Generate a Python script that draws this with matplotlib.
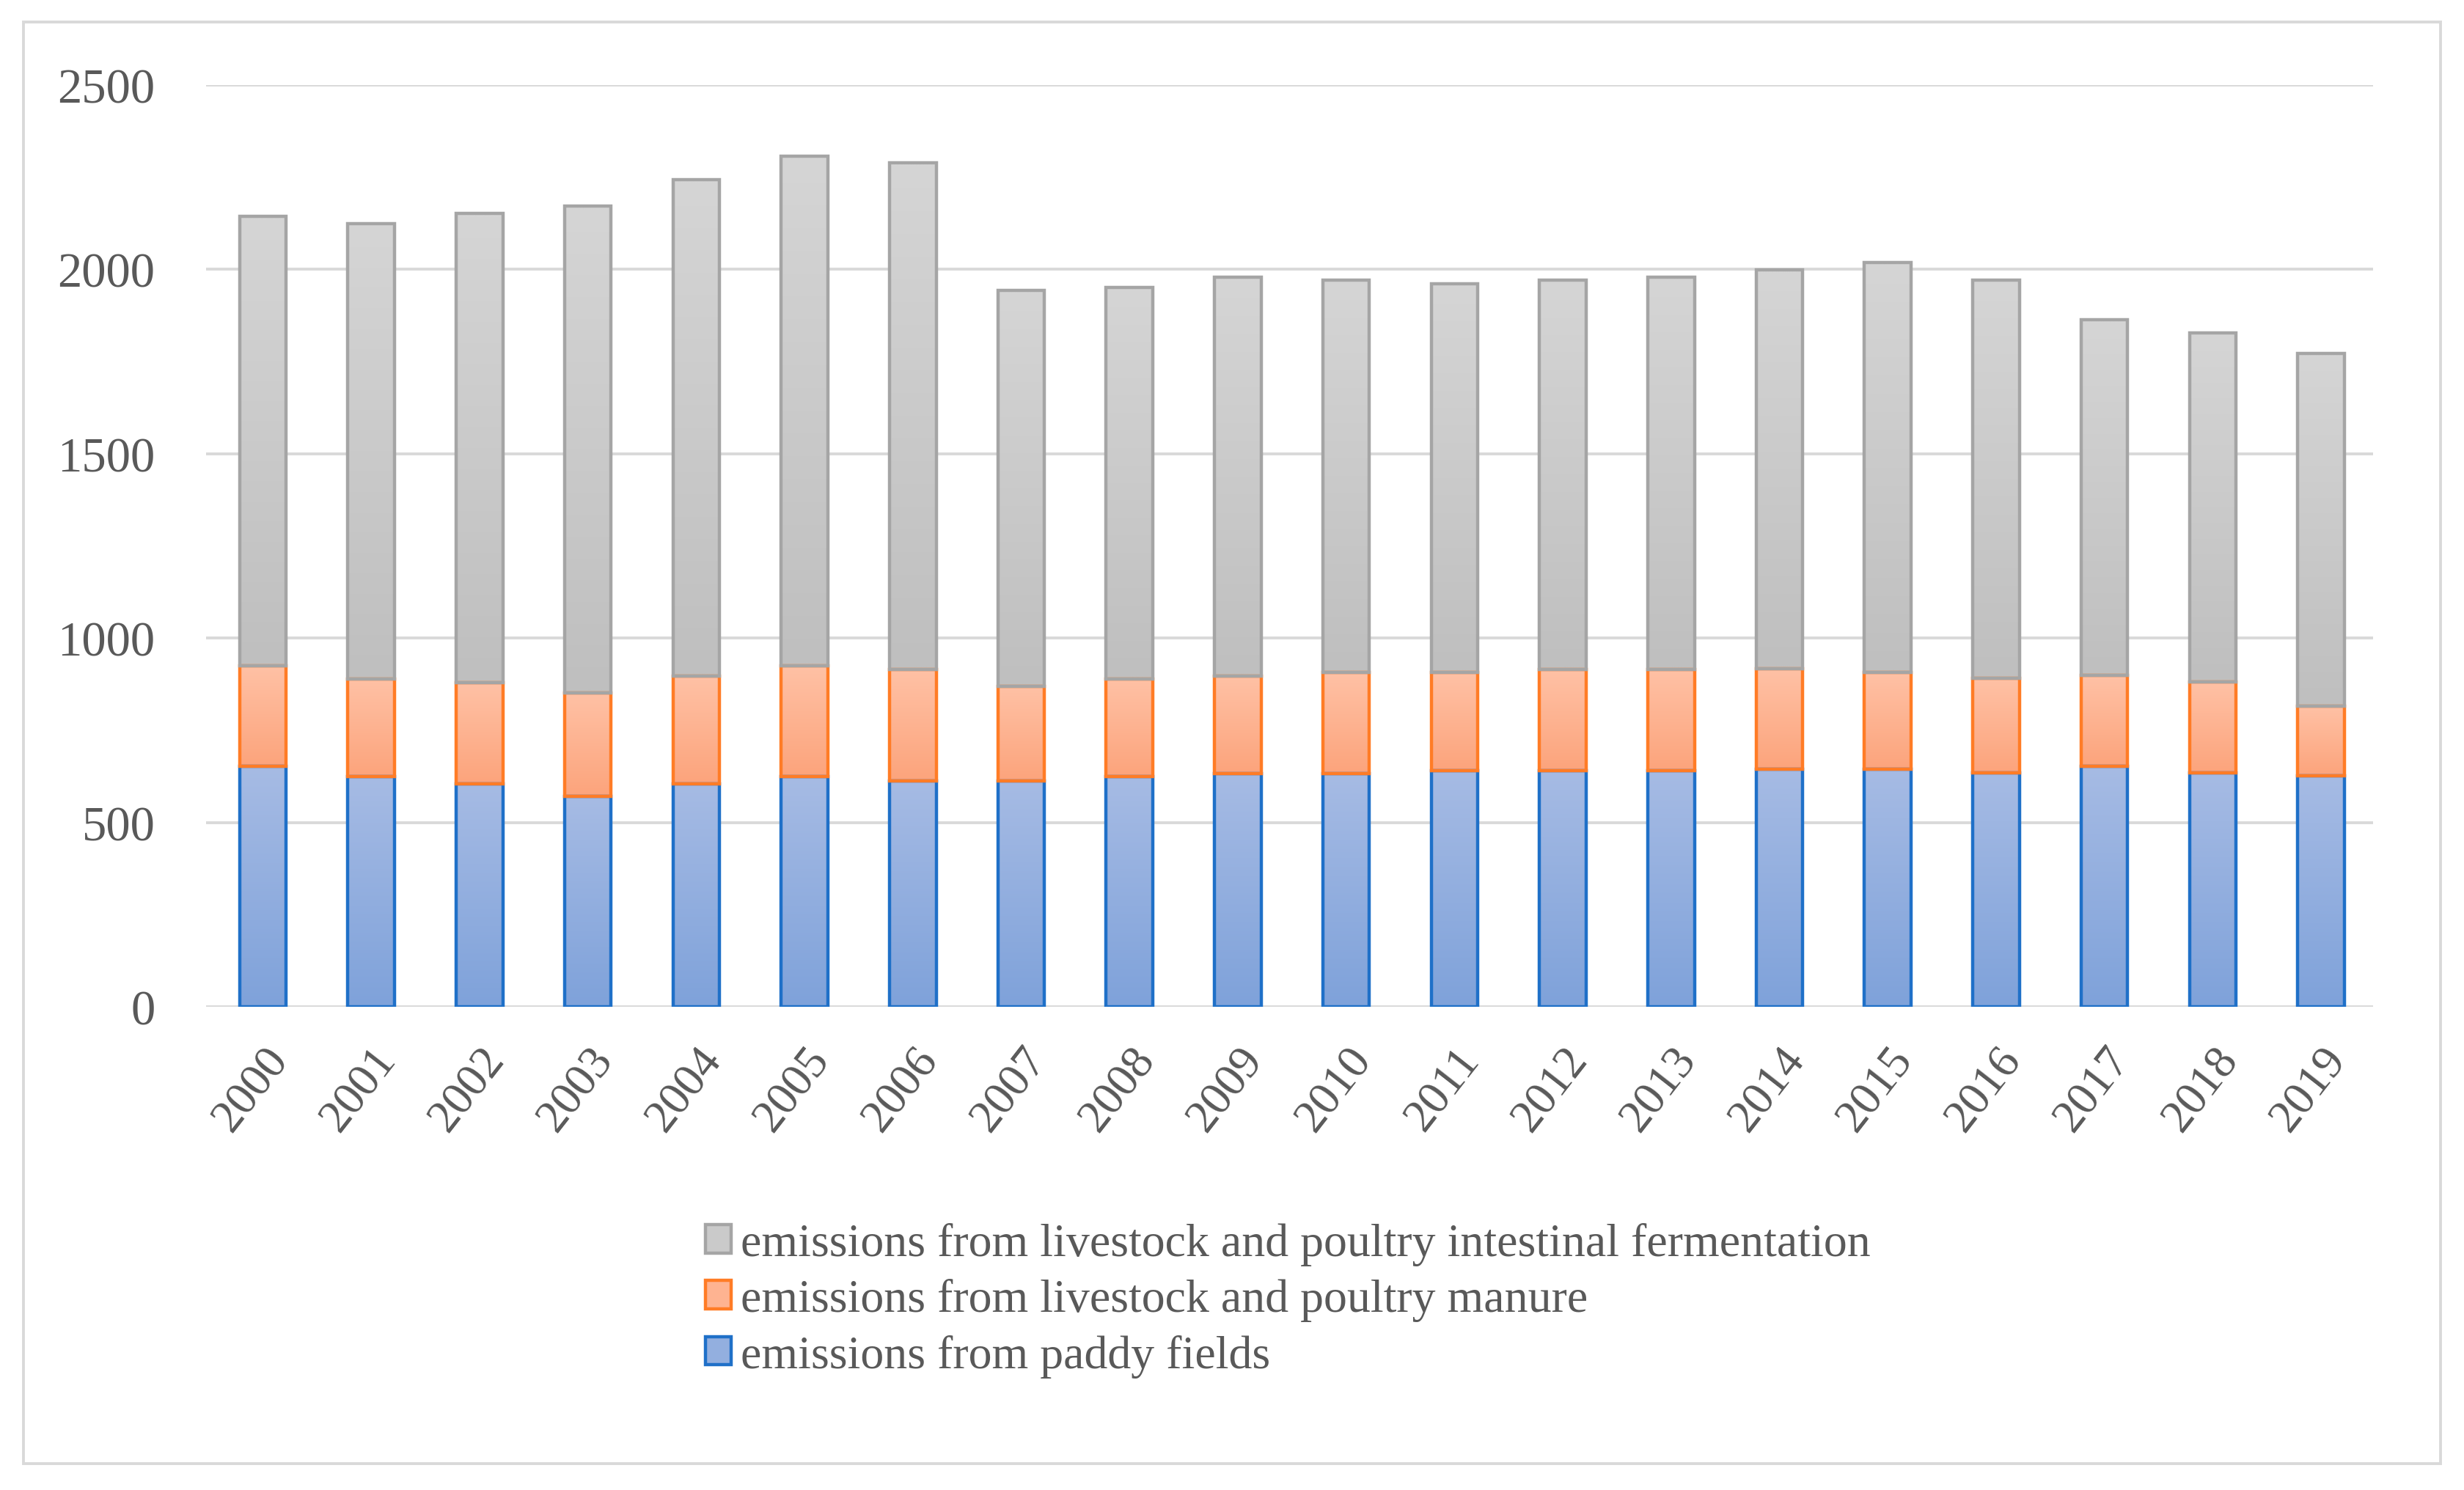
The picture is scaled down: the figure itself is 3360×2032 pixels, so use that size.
import numpy as np
import matplotlib
matplotlib.use("Agg")
import matplotlib.pyplot as plt
from matplotlib.patches import Patch, Rectangle
from matplotlib.colors import to_rgba

years = [str(y) for y in range(2000, 2020)]
paddy = [652, 624, 605, 570, 605, 624, 613, 613, 624, 632, 632, 641, 641, 641, 645, 645, 635, 653, 635, 627]
manure = [273, 265, 274, 282, 292, 301, 301, 257, 265, 265, 274, 265, 273, 273, 272, 262, 255, 246, 246, 189]
intestinal = [1219, 1236, 1273, 1319, 1346, 1383, 1375, 1073, 1063, 1082, 1065, 1056, 1057, 1065, 1082, 1111, 1082, 964, 946, 957]

labels = ["emissions from livestock and poultry intestinal fermentation",
          "emissions from livestock and poultry manure",
          "emissions from paddy fields"]
yticks = [0, 500, 1000, 1500, 2000, 2500]

plt.rcParams['font.family'] = ['Liberation Serif', 'DejaVu Serif']
TXT = '#595959'

fig = plt.figure(figsize=(16.8, 10.165), dpi=200)
ax = fig.add_axes([0.0836, 0.3242, 0.9631 - 0.0836, 0.9424 - 0.3242])

x = np.arange(len(years))
width = 0.43

b1 = np.array(paddy)
b2 = b1 + np.array(manure)
series = [
    (paddy, np.zeros(len(years)), '#a6bbe4', '#7fa2da', '#1f70c8'),
    (manure, b1, '#ffc1a5', '#fca47c', '#ff7c26'),
    (intestinal, b2, '#d5d5d5', '#bfbfbf', '#a5a5a5'),
]

ax.set_xlim(-0.525, len(years) - 0.52)
ax.set_ylim(0, 2500)

handles = []
for vals, bots, ctop, cbot, cedge in series:
    bars = ax.bar(x, vals, width, bottom=bots, facecolor='none',
                  edgecolor=cedge, linewidth=1.6, zorder=3)
    t = np.array(to_rgba(ctop)); bcol = np.array(to_rgba(cbot))
    grad = np.linspace(0, 1, 64)[:, None, None]
    img = bcol * (1 - grad) + t * grad  # bottom -> top (origin lower)
    for r in bars:
        x0, y0 = r.get_x(), r.get_y()
        w, h = r.get_width(), r.get_height()
        im = ax.imshow(img, extent=[x0, x0 + w, y0, y0 + h], origin='lower',
                       aspect='auto', zorder=2.5, interpolation='bilinear')
        im.set_clip_path(r)
    handles.append(Patch(facecolor=(np.array(to_rgba(ctop)) + bcol) / 2,
                         edgecolor=cedge, linewidth=1.6))

ax.set_xlim(-0.525, len(years) - 0.52)
ax.set_ylim(0, 2500)

ax.set_yticks(yticks)
ax.set_yticklabels([str(v) for v in yticks])
ax.yaxis.grid(True, color='#d9d9d9', linewidth=1.4, zorder=0)
ax.set_axisbelow(True)
for s in ax.spines.values():
    s.set_visible(False)
ax.tick_params(axis='y', length=0, pad=25, labelsize=24, labelcolor=TXT)
ax.set_xticks(x)
ax.set_xticklabels(years, rotation=52, ha='right', va='top',
                   rotation_mode='anchor', fontsize=23, color=TXT)
ax.tick_params(axis='x', length=0, pad=16)

# figure frame
fig.patches.append(Rectangle((32 / 3360, 36 / 2033), (3328 - 32) / 3360, (2002 - 36) / 2033,
                             transform=fig.transFigure, fill=False,
                             edgecolor='#d9d9d9', linewidth=1.4, zorder=0))

leg = fig.legend(handles[::-1], labels, loc='upper left',
                 bbox_to_anchor=(0.2863, 0.1795), frameon=False,
                 fontsize=23, handlelength=0.55, handleheight=0.55,
                 handletextpad=0.2, labelspacing=0.27, borderpad=0,
                 borderaxespad=0)
for t in leg.get_texts():
    t.set_color(TXT)

fig.savefig('out.png', dpi=200)
